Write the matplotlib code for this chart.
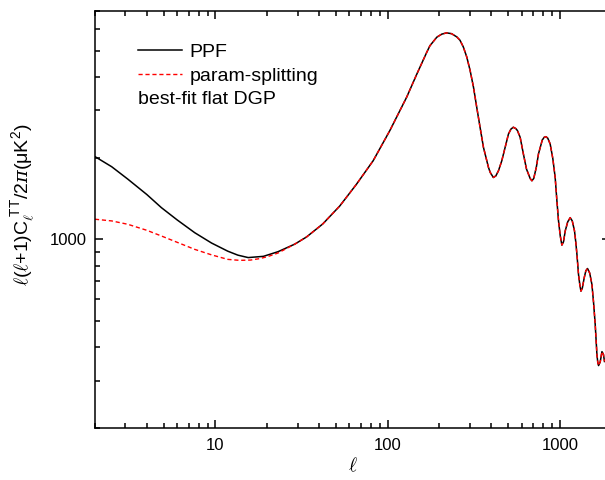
import matplotlib
matplotlib.use("Agg")
import matplotlib.pyplot as plt
from matplotlib.ticker import LogLocator, NullFormatter, FuncFormatter

# TT power spectrum, best-fit flat DGP
ppf_ell = [2, 2.5, 3.1, 4.0, 4.86, 6.0, 7.59, 9.5, 11.8, 13.5, 15.5, 19, 23.1,
           28.9, 33.8, 42, 52.8, 66, 82.4, 103, 129, 147.5, 168.5, 176, 193,
           206, 220, 235, 252, 263, 275, 288, 301, 315, 329, 344, 360, 376.5,
           385, 394, 411, 425, 440, 460, 481, 503, 520, 537, 555, 567, 588,
           614, 640, 657, 672, 688, 705, 730, 751, 790, 810, 829, 850, 878,
           910, 939, 960, 982, 1005, 1027, 1050, 1074, 1110, 1148, 1180, 1216,
           1236, 1256, 1283, 1305, 1325, 1350, 1384, 1415, 1447, 1490, 1535,
           1570, 1604, 1641, 1660, 1677, 1715, 1755, 1790, 1816]
ppf_cl = [2024, 1857, 1671, 1465, 1310, 1180, 1058, 969, 904, 874, 856, 865, 900,
          960, 1020, 1140, 1330, 1601, 1954, 2527, 3360, 4081, 4917, 5208, 5602,
          5748, 5812, 5772, 5616, 5460, 5156, 4732, 4225, 3661, 3085, 2600, 2190,
          1954, 1846, 1769, 1694, 1718, 1794, 1954, 2190, 2455, 2560, 2600, 2570,
          2527, 2386, 2070, 1820, 1744, 1680, 1647, 1680, 1850, 2070, 2330, 2385,
          2400, 2370, 2256, 1990, 1694, 1400, 1170, 1030, 952, 980, 1074, 1160,
          1203, 1170, 1074, 980, 880, 741, 680, 643, 660, 720, 765, 780, 750, 680,
          580, 483, 374, 350, 341, 352, 384, 375, 353]

# param-splitting differs only at low ell, then sits on top of PPF
split_low_ell = [2, 2.5, 3.1, 4.0, 4.86, 6.0, 7.59, 9.5, 11.8, 13.8, 16, 18,
                 20, 23.1]
split_low_cl = [1187, 1170, 1137, 1080, 1029, 975, 918, 876, 843, 836, 838, 848,
                862, 890]
split_ell = split_low_ell + ppf_ell[13:]
split_cl = split_low_cl + ppf_cl[13:]

plt.rcParams["font.family"] = ["Liberation Sans", "DejaVu Sans"]
plt.rcParams["mathtext.fontset"] = "custom"
plt.rcParams["mathtext.rm"] = "Liberation Sans"
plt.rcParams["mathtext.it"] = "DejaVu Serif:italic"
plt.rcParams["mathtext.bf"] = "Liberation Sans:bold"

fig = plt.figure(figsize=(6.05, 4.8), dpi=100)
ax = fig.add_axes([0.157, 0.108, 0.851, 0.869])

ax.plot(ppf_ell, ppf_cl, color="black", lw=1.1, label="PPF")
ax.plot(split_ell, split_cl, color="red", lw=1.0, ls=(0, (3, 2)),
        label="param-splitting")

ax.set_xscale("log")
ax.set_yscale("log")
ax.set_xlim(2, 1950)
ax.set_ylim(200, 7000)

plain = FuncFormatter(lambda v, p: "%d" % round(v))
ax.xaxis.set_major_formatter(plain)
ax.yaxis.set_major_formatter(plain)
ax.yaxis.set_major_locator(LogLocator(base=10))
ax.yaxis.set_minor_locator(LogLocator(base=10, subs=range(2, 10)))
ax.yaxis.set_minor_formatter(NullFormatter())
ax.xaxis.set_minor_formatter(NullFormatter())

ax.tick_params(which="both", direction="in", top=True, right=True, width=1.1,
               labelsize=12)
ax.tick_params(which="major", length=6, pad=6)
ax.tick_params(axis="x", which="major", pad=7)
ax.tick_params(which="minor", length=3.5)
for s in ax.spines.values():
    s.set_linewidth(1.1)

ax.set_ylabel(r"$\ell(\ell\mathrm{+1)C}_{\ell}^{\ \mathrm{TT}}/2\pi\mathrm{(\mu K^2)}$",
              fontsize=14)
ax.yaxis.set_label_coords(-0.113, 0.535)
ax.set_xlabel(r"$\ell$", fontsize=14, labelpad=3)

leg = ax.legend(loc="upper left", bbox_to_anchor=(0.049, 0.964), frameon=False,
                fontsize=14, handlelength=2.3, handletextpad=0.35,
                labelspacing=0.33)
ax.text(0.084, 0.787, "best-fit flat DGP", transform=ax.transAxes, fontsize=14,
        va="center", ha="left")

fig.savefig("out.png", dpi=100)
